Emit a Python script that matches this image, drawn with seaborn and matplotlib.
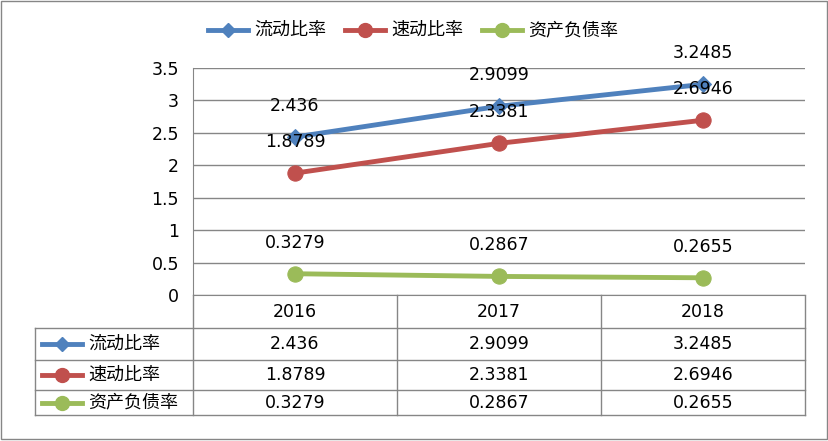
import matplotlib
matplotlib.use("Agg")
import matplotlib.pyplot as plt
from matplotlib import font_manager
import seaborn as sns
import pandas as pd
from matplotlib.patches import Rectangle

cjk = [f.name for f in font_manager.fontManager.ttflist if "CJK" in f.name]
pref = [n for n in ["Noto Sans CJK SC", "Noto Sans CJK JP", "Noto Sans CJK TC", "Noto Sans CJK KR"] if n in cjk]
CJK = (pref or cjk or ["DejaVu Sans"])[0]
plt.rcParams["font.family"] = [CJK, "DejaVu Sans"]

years = ["2016", "2017", "2018"]
series_names = ["流动比率", "速动比率", "资产负债率"]
current_ratio = [2.436, 2.9099, 3.2485]
quick_ratio = [1.8789, 2.3381, 2.6946]
debt_ratio = [0.3279, 0.2867, 0.2655]
labels = {
    "流动比率": ["2.436", "2.9099", "3.2485"],
    "速动比率": ["1.8789", "2.3381", "2.6946"],
    "资产负债率": ["0.3279", "0.2867", "0.2655"],
}
colors = {"流动比率": "#4F81BD", "速动比率": "#C0504D", "资产负债率": "#9BBB59"}
markers = {"流动比率": "D", "速动比率": "o", "资产负债率": "o"}
msize = {"流动比率": 8, "速动比率": 11, "资产负债率": 11}

df = pd.DataFrame({
    "year": years * 3,
    "x": [0, 1, 2] * 3,
    "value": current_ratio + quick_ratio + debt_ratio,
    "series": [s for s in series_names for _ in years],
})

W, H = 829, 441
fig = plt.figure(figsize=(W / 100, H / 100), dpi=100)

ov = fig.add_axes([0, 0, 1, 1])
ov.set_xlim(0, W); ov.set_ylim(H, 0); ov.axis("off")
ov.add_patch(Rectangle((1, 1), W - 3, H - 3, fill=False, ec="#868686", lw=1))

L, R, T, B = 193, 805, 68, 295
ax = fig.add_axes([L / W, 1 - B / H, (R - L) / W, (B - T) / H])
ax.set_zorder(2); ax.patch.set_alpha(0)
for s in series_names:
    d = df[df.series == s]
    sns.lineplot(data=d, x="x", y="value", ax=ax, color=colors[s], lw=3.5,
                 marker=markers[s], markersize=msize[s], markeredgecolor=colors[s],
                 legend=False)
    for xi, v, lab in zip(d.x, d.value, labels[s]):
        ax.annotate(lab, (xi, v), xytext=(0, 16), textcoords="offset points",
                    ha="center", va="bottom", fontsize=12.5, family="DejaVu Sans")
ax.set_xlim(-0.5, 2.5)
ax.set_ylim(0, 3.5)
ax.set_yticks([0, 0.5, 1, 1.5, 2, 2.5, 3, 3.5])
ax.set_yticklabels(["0", "0.5", "1", "1.5", "2", "2.5", "3", "3.5"], family="DejaVu Sans", fontsize=12.5)
ax.set_xticks([])
ax.set_xlabel(""); ax.set_ylabel("")
ax.grid(axis="y", color="#868686", lw=1)
ax.tick_params(axis="y", length=0, pad=10)
for sp in ["top", "right"]:
    ax.spines[sp].set_visible(False)
ax.spines["left"].set_color("#868686")
ax.spines["bottom"].set_color("#868686")

gc = "#868686"
cols = [L, 397, 601, R]
rows = [B, 328, 360, 390, 415]
for x in cols:
    ov.plot([x, x], [B, 415], color=gc, lw=1)
ov.plot([35, 35], [328, 415], color=gc, lw=1)
for y in rows[1:]:
    ov.plot([35, R], [y, y], color=gc, lw=1)
for i, yr in enumerate(years):
    ov.text((cols[i] + cols[i + 1]) / 2, 312, yr, ha="center", va="center",
            fontsize=12.5, family="DejaVu Sans")
for r, s in enumerate(series_names):
    yc = (rows[r + 1] + rows[r + 2]) / 2
    ov.plot([42, 82], [yc, yc], color=colors[s], lw=3.5)
    ov.plot([62], [yc], marker=markers[s], color=colors[s], markersize=msize[s] - 1)
    ov.text(88, yc, s, ha="left", va="center", fontsize=13, family=CJK)
    for i in range(3):
        ov.text((cols[i] + cols[i + 1]) / 2, yc, labels[s][i], ha="center", va="center",
                fontsize=12.5, family="DejaVu Sans")

lx = [208, 345, 482]
for s, x in zip(series_names, lx):
    ov.plot([x, x + 40], [30, 30], color=colors[s], lw=3.5)
    ov.plot([x + 20], [30], marker=markers[s], color=colors[s], markersize=msize[s] - 1)
    ov.text(x + 46, 30, s, ha="left", va="center", fontsize=13, family=CJK)

fig.savefig("out.png", dpi=100)
